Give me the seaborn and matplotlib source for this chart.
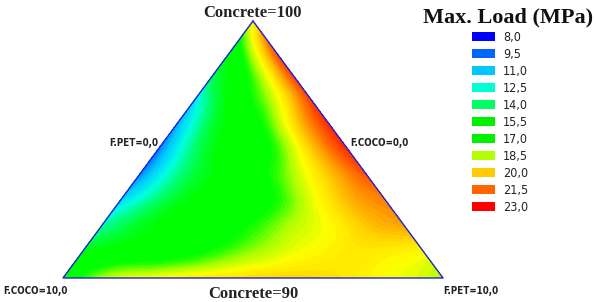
import numpy as np
import matplotlib
matplotlib.use("Agg")
import matplotlib.pyplot as plt
import matplotlib.tri as mtri
from matplotlib.colors import LinearSegmentedColormap
from matplotlib.patches import Patch
import seaborn as sns

# Una lista por nivel de hormigón; los valores van F.PET = 0, 1, 2 ... (F.COCO = resto)
load_c90 = [15.5, 18.0, 18.8, 19.2, 19.5, 19.7, 19.8, 19.6, 19.2, 18.8, 18.2]
load_c91 = [15.3, 16.0, 16.3, 16.8, 17.6, 18.4, 19.0, 19.4, 19.3, 19.0]
load_c92 = [13.3, 15.0, 16.0, 16.4, 17.1, 18.2, 19.0, 20.0, 20.5]
load_c93 = [11.5, 14.0, 15.7, 16.3, 16.9, 18.6, 20.2, 21.0]
load_c94 = [10.0, 13.5, 15.5, 16.5, 18.0, 20.0, 21.7]
load_c95 = [9.8, 14.0, 16.0, 17.0, 19.8, 22.3]
load_c96 = [10.5, 14.8, 16.5, 19.3, 22.3]
load_c97 = [12.0, 16.0, 18.3, 22.0]
load_c98 = [14.5, 17.5, 22.0]
load_c99 = [16.0, 21.5]
load_c100 = [19.0]
rows = [load_c90, load_c91, load_c92, load_c93, load_c94, load_c95,
        load_c96, load_c97, load_c98, load_c99, load_c100]
concrete_levels = [90, 91, 92, 93, 94, 95, 96, 97, 98, 99, 100]

# leyenda
legend_values = ["8,0", "9,5", "11,0", "12,5", "14,0", "15,5", "17,0", "18,5", "20,0", "21,5", "23,0"]
legend_colors = ["#0000ff", "#0064ff", "#00c8ff", "#00ffd2", "#00ff64", "#00f000",
                 "#00f000", "#b4ff00", "#ffcc00", "#ff6400", "#ff0000"]

# escala de color continua (valor, color)
cmap_stops = [8, 9.5, 11, 12.5, 14, 15.5, 17, 18.2, 19, 20, 21.5, 23]
cmap_colors = ["#0000ff", "#0064ff", "#00c8ff", "#00ffe0", "#00ff64", "#00ff00",
               "#00ff00", "#b4ff00", "#ffff00", "#ffcc00", "#ff6400", "#ff0000"]


def to_xy(concrete, pet):
    """composición -> coordenadas cartesianas del triángulo (0..1)"""
    a = (concrete - 90) / 10.0
    d = pet / 10.0
    return d + a / 2.0, a


sns.set_theme(style="white")
serif = ["Liberation Serif", "DejaVu Serif"]
sans = ["DejaVu Sans"]

xs, ys, zs = [], [], []
for c, row in zip(concrete_levels, rows):
    for pet, v in enumerate(row):
        x, y = to_xy(c, pet)
        xs.append(x); ys.append(y); zs.append(v)

tri = mtri.Triangulation(xs, ys)
refiner = mtri.UniformTriRefiner(tri)
interp = mtri.CubicTriInterpolator(tri, np.array(zs), kind="min_E")
tri_f, z_f = refiner.refine_field(np.array(zs), triinterpolator=interp, subdiv=3)

norm_pos = [(s - cmap_stops[0]) / (cmap_stops[-1] - cmap_stops[0]) for s in cmap_stops]
cmap = LinearSegmentedColormap.from_list("maxload", list(zip(norm_pos, cmap_colors)))

fig = plt.figure(figsize=(5.96, 3.02), dpi=100)
ax = fig.add_axes([63 / 596, 24 / 302, 380 / 596, 257 / 302])
ax.tricontourf(tri_f, z_f, levels=np.linspace(8, 23, 91), cmap=cmap, extend="both")

corners = [to_xy(100, 0), to_xy(90, 0), to_xy(90, 10), to_xy(100, 0)]
ax.plot([p[0] for p in corners], [p[1] for p in corners], color="#2020e0", lw=1.0, clip_on=False)
ax.set_xlim(0, 1)
ax.set_ylim(0, 1)
ax.axis("off")

# etiquetas de vértices y lados
ax.text(0.5, 1.0, "Concrete=100", ha="center", va="bottom", fontsize=12,
        family=serif, weight="bold", color="#222222")
ax.text(0.5, -0.03, "Concrete=90", ha="center", va="top", fontsize=12,
        family=serif, weight="bold", color="#222222")
lab = dict(fontsize=7, family=sans, weight="bold", stretch="condensed", color="#222222")
fig.text(3 / 596, 1 - 286 / 302, "F.COCO=10,0", ha="left", va="top", **lab)
ax.text(1.0, -0.03, "F.PET=10,0", ha="left", va="top", **lab)
ax.text(0.25, 0.525, "F.PET=0,0", ha="right", va="center", **lab)
ax.text(0.755, 0.525, "F.COCO=0,0", ha="left", va="center", **lab)

fig.text(0.995, 1 - 17 / 302, "Max. Load (MPa)", ha="right", va="center",
         fontsize=16, family=serif, weight="bold", color="#111111")

handles = [Patch(facecolor=c, edgecolor="none", label=l) for c, l in zip(legend_colors, legend_values)]
leg = fig.legend(handles=handles, loc="upper left", bbox_to_anchor=(472 / 596, 1 - 31 / 302),
                 frameon=False, fontsize=9, handlelength=1.8, handleheight=0.8,
                 handletextpad=0.7, labelspacing=0.32, borderaxespad=0, borderpad=0)
for t in leg.get_texts():
    t.set_family(sans)
    t.set_stretch("condensed")
    t.set_color("#222222")

fig.savefig("out.png", dpi=100, facecolor="white")
